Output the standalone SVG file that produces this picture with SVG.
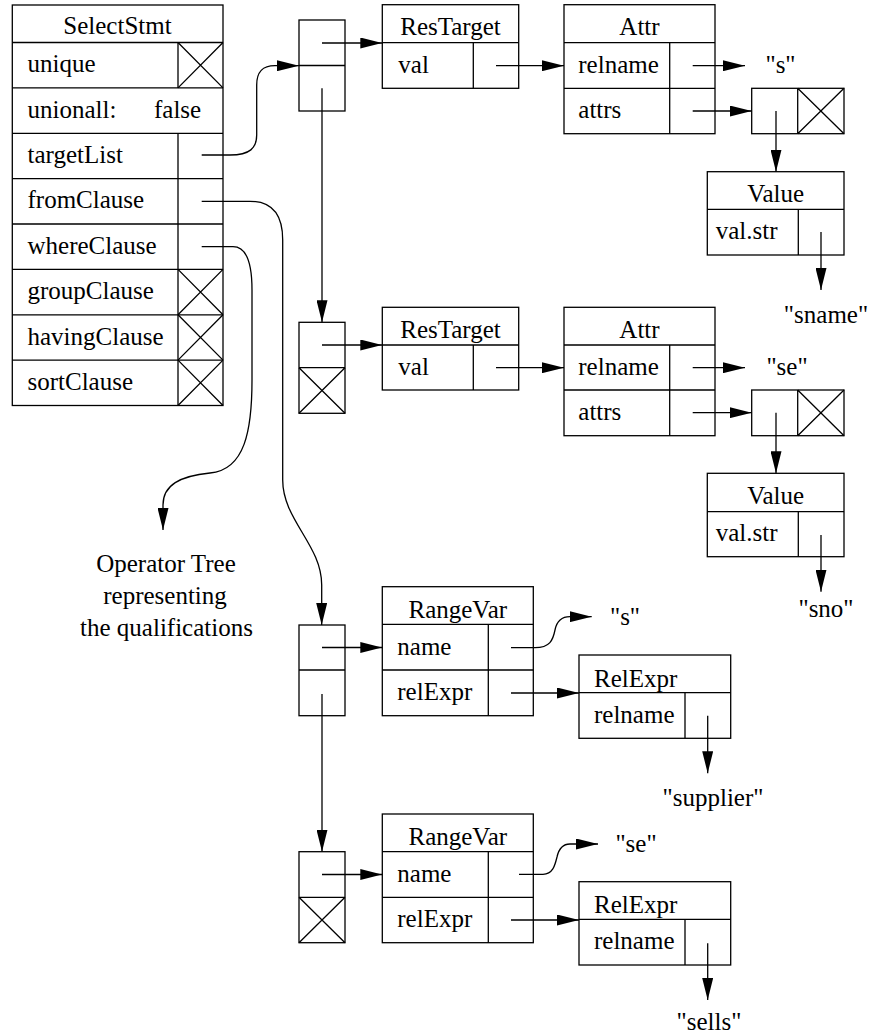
<svg xmlns="http://www.w3.org/2000/svg" width="869" height="1036" viewBox="0 0 869 1036">
<style>
.b{fill:#fff;stroke:#000;stroke-width:1.3}
.l{fill:none;stroke:#000;stroke-width:1.3}
.c{fill:none;stroke:#000;stroke-width:1.3;marker-end:url(#ah)}
text{font-family:"Liberation Serif","Times New Roman",serif;font-size:25px;fill:#000}
.m{text-anchor:middle}
</style>
<defs>
<marker id="ah" markerUnits="userSpaceOnUse" markerWidth="22" markerHeight="11" viewBox="0 0 22 11" refX="22" refY="5.5" orient="auto">
<path d="M0,0 L22,5.5 L0,11 z" fill="#000"/>
</marker>
</defs>
<rect width="869" height="1036" fill="#fff"/>

<g id="selectstmt">
<rect class="b" x="12.3" y="5" width="210.7" height="400.5"/>
<path class="l" d="M12.3,42.5H223M12.3,87.9H223M12.3,133.3H223M12.3,178.6H223M12.3,224H223M12.3,269.4H223M12.3,314.8H223M12.3,360.1H223"/>
<path class="l" d="M178,42.5V87.9M178,133.3V405.5"/>
<path class="l" d="M178,42.5L223,87.9M223,42.5L178,87.9M178,269.4L223,314.8M223,269.4L178,314.8M178,314.8L223,360.1M223,314.8L178,360.1M178,360.1L223,405.5M223,360.1L178,405.5"/>
<text class="m" x="117.5" y="34">SelectStmt</text>
<text x="27.5" y="72.2">unique</text>
<text x="27.5" y="117.6">unionall:</text>
<text x="154" y="117.6">false</text>
<text x="27.5" y="163">targetList</text>
<text x="27.5" y="208.3">fromClause</text>
<text x="27.5" y="253.7">whereClause</text>
<text x="27.5" y="299.1">groupClause</text>
<text x="27.5" y="344.5">havingClause</text>
<text x="27.5" y="389.8">sortClause</text>
</g>

<g id="list1">
<rect class="b" x="299" y="20" width="46" height="91"/>
<path class="l" d="M299,65.5H345"/>
</g>
<g id="restarget1">
<rect class="b" x="382.3" y="4.7" width="136.4" height="83.6"/>
<path class="l" d="M382.3,42.7H518.7M473.3,42.7V88.3"/>
<text class="m" x="450.5" y="35">ResTarget</text>
<text x="398.3" y="72.5">val</text>
</g>
<g id="attr1">
<rect class="b" x="564" y="4.7" width="151" height="129"/>
<path class="l" d="M564,42.7H715M564,88.3H715M669.7,42.7V133.7"/>
<text class="m" x="639.5" y="35">Attr</text>
<text x="578.3" y="72.5">relname</text>
<text x="578.3" y="118">attrs</text>
</g>
<g id="attrlist1">
<rect class="b" x="751.7" y="88.3" width="92.3" height="45.4"/>
<path class="l" d="M797.7,88.3V133.7M797.7,88.3L844,133.7M844,88.3L797.7,133.7"/>
</g>
<g id="value1">
<rect class="b" x="707.3" y="171.7" width="136.7" height="83.3"/>
<path class="l" d="M707.3,209.3H844M798.3,209.3V255"/>
<text class="m" x="775.7" y="202">Value</text>
<text x="715.7" y="239">val.str</text>
</g>
<text id="str-s1" class="m" x="780.5" y="73">"s"</text>
<text id="str-sname" class="m" x="826" y="323">"sname"</text>

<g id="list2">
<rect class="b" x="299" y="322.3" width="46" height="91"/>
<path class="l" d="M299,367.7H345M299,367.7L345,413.3M345,367.7L299,413.3"/>
</g>
<g id="restarget2">
<rect class="b" x="382.3" y="307.3" width="136.4" height="82.7"/>
<path class="l" d="M382.3,345H518.7M473.3,345V390"/>
<text class="m" x="450.5" y="338">ResTarget</text>
<text x="398.3" y="374.7">val</text>
</g>
<g id="attr2">
<rect class="b" x="564" y="307.3" width="151" height="128.4"/>
<path class="l" d="M564,345H715M564,390H715M669.7,345V435.7"/>
<text class="m" x="639.5" y="338">Attr</text>
<text x="578.3" y="374.7">relname</text>
<text x="578.3" y="419.7">attrs</text>
</g>
<g id="attrlist2">
<rect class="b" x="751.7" y="390" width="92.3" height="45.7"/>
<path class="l" d="M797.7,390V435.7M797.7,390L844,435.7M844,390L797.7,435.7"/>
</g>
<g id="value2">
<rect class="b" x="707.3" y="473.3" width="136.7" height="83.4"/>
<path class="l" d="M707.3,511.7H844M798.3,511.7V556.7"/>
<text class="m" x="775.7" y="503.5">Value</text>
<text x="715.7" y="541">val.str</text>
</g>
<text id="str-se1" class="m" x="787" y="375">"se"</text>
<text id="str-sno" class="m" x="826" y="617">"sno"</text>

<g id="operator-tree">
<text class="m" x="166" y="572">Operator Tree</text>
<text class="m" x="165" y="604">representing</text>
<text class="m" x="166.5" y="636">the qualifications</text>
</g>

<g id="list3">
<rect class="b" x="299" y="625" width="46" height="90.7"/>
<path class="l" d="M299,670H345"/>
</g>
<g id="rangevar1">
<rect class="b" x="382.3" y="586.7" width="151" height="129"/>
<path class="l" d="M382.3,624.3H533.3M382.3,670H533.3M488.3,624.3V715.7"/>
<text class="m" x="457.8" y="617.5">RangeVar</text>
<text x="397.3" y="654.5">name</text>
<text x="397.3" y="700">relExpr</text>
</g>
<g id="relexpr1">
<rect class="b" x="579" y="655" width="151.7" height="83.3"/>
<path class="l" d="M579,692.7H730.7M685,692.7V738.3"/>
<text x="594" y="686.5">RelExpr</text>
<text x="594" y="722.5">relname</text>
</g>
<text id="str-s2" class="m" x="625" y="625">"s"</text>
<text id="str-supplier" class="m" x="713" y="806">"supplier"</text>

<g id="list4">
<rect class="b" x="299" y="851.7" width="46" height="91"/>
<path class="l" d="M299,897.3H345M299,897.3L345,942.7M345,897.3L299,942.7"/>
</g>
<g id="rangevar2">
<rect class="b" x="382.3" y="814" width="151" height="128.7"/>
<path class="l" d="M382.3,851.7H533.3M382.3,897.3H533.3M488.3,851.7V942.7"/>
<text class="m" x="457.8" y="845">RangeVar</text>
<text x="397.3" y="881.5">name</text>
<text x="397.3" y="927">relExpr</text>
</g>
<g id="relexpr2">
<rect class="b" x="579" y="881.7" width="151.7" height="83.3"/>
<path class="l" d="M579,919.3H730.7M685,919.3V965"/>
<text x="594" y="913">RelExpr</text>
<text x="594" y="949">relname</text>
</g>
<text id="str-se2" class="m" x="636" y="852">"se"</text>
<text id="str-sells" class="m" x="709" y="1030">"sells"</text>

<g id="connectors">
<path class="c" d="M201.7,155 H230 C250,155 256.7,148 256.7,135 V85 C256.7,72 262,65.7 275,65.7 H299"/>
<path class="c" d="M201.7,201.3 H250 C272,201.3 282.7,215 282.7,240 V480 C282.7,520 321.7,545 321.7,585 V625"/>
<path class="c" d="M201.7,246.7 H233 C245,246.7 252,260 252,290 V380 C252,430 245,470 210,473 C180,476 163,485 163,505 V530"/>
<path class="c" d="M322,43 H382.3"/>
<path class="c" d="M322,88.3 V322.3"/>
<path class="c" d="M496,65.7 H564"/>
<path class="c" d="M692.7,65.7 H745"/>
<path class="c" d="M692.7,111 H751.7"/>
<path class="c" d="M776,111 V171.7"/>
<path class="c" d="M821,232 V290"/>
<path class="c" d="M322,345 H382.3"/>
<path class="c" d="M496,367.7 H564"/>
<path class="c" d="M692.7,367.7 H745"/>
<path class="c" d="M692.7,412.7 H751.7"/>
<path class="c" d="M776,412.7 V473.3"/>
<path class="c" d="M821,535 V591.7"/>
<path class="c" d="M322,647.5 H382.3"/>
<path class="c" d="M322,694 V851.7"/>
<path class="c" d="M511,647.7 H535 C550,647.7 553,640 555,630 C557,620 562,616.7 570,616.7 H591.7"/>
<path class="c" d="M511,693 H579"/>
<path class="c" d="M707.7,715.7 V773.3"/>
<path class="c" d="M322,874.5 H382.3"/>
<path class="c" d="M519,874.3 H543 C553,874.3 555,865 557,857 C559,848 563,844 570,844 H598"/>
<path class="c" d="M511,920 H579"/>
<path class="c" d="M707.7,943.3 V1000"/>
</g>
</svg>
